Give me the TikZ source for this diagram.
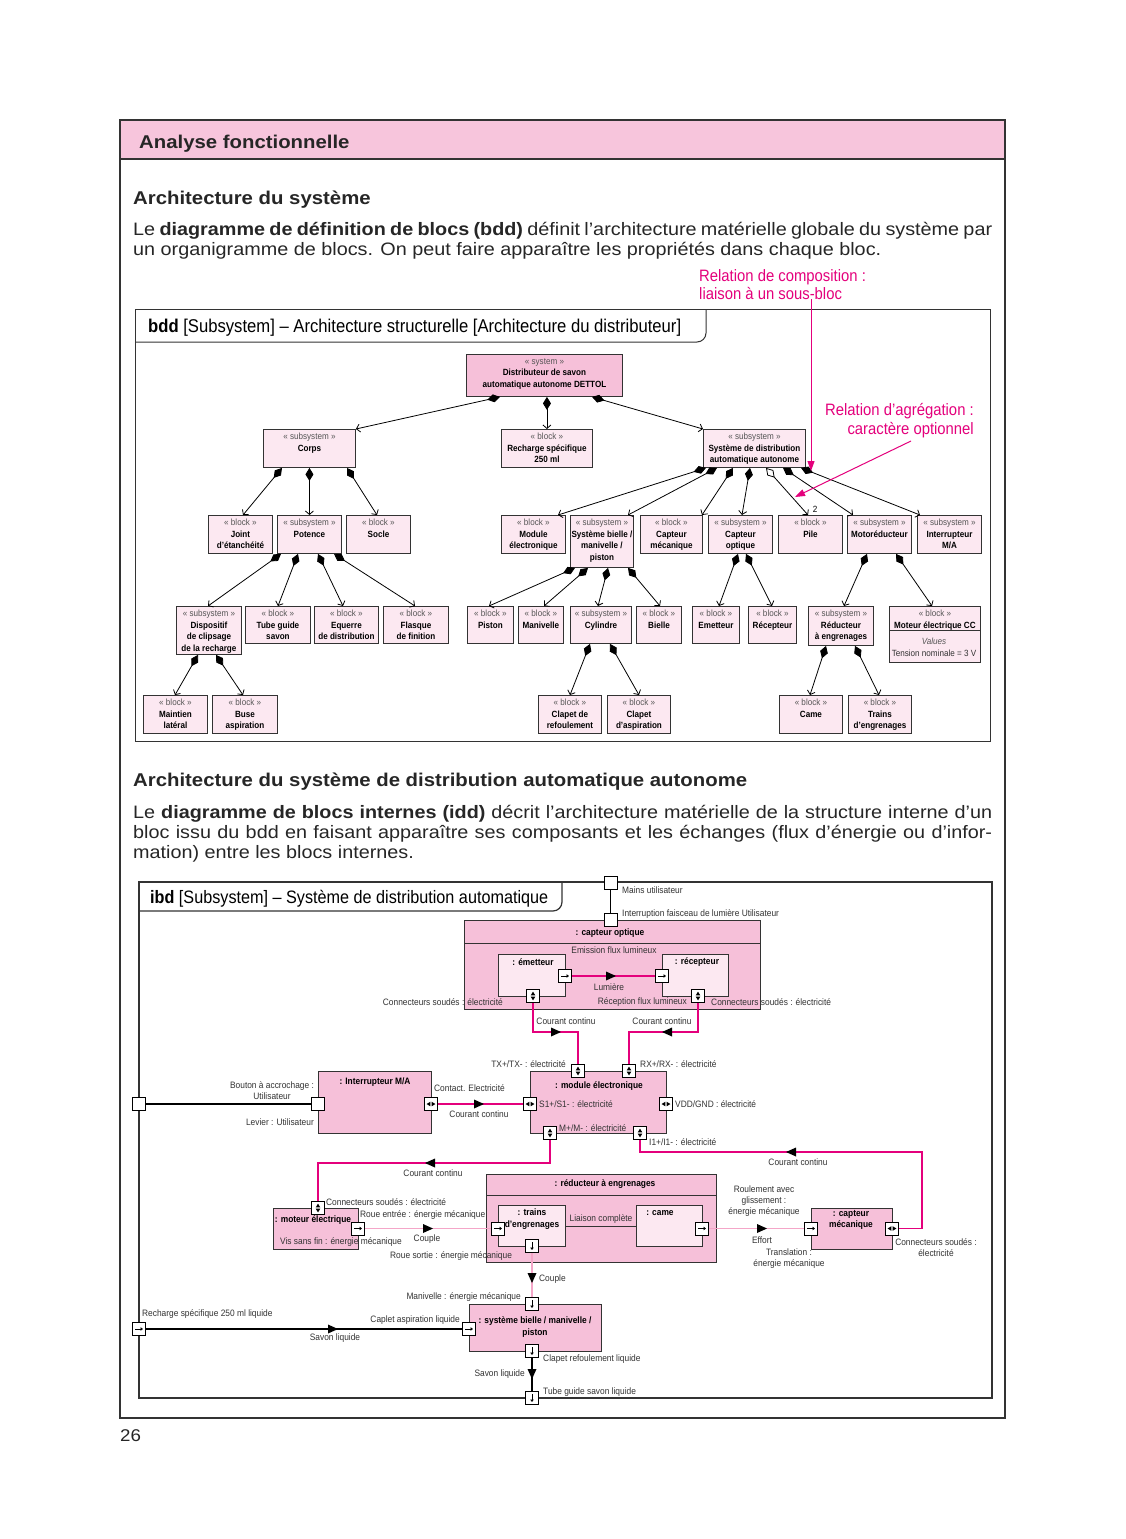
\documentclass[tikz,border=0pt]{standalone}
\usepackage{fontspec}
\setmainfont{Liberation Sans}
\newfontfamily\cond{Liberation Sans}[FakeStretch=0.9]
\newfontfamily\bodyf{Liberation Sans}[FakeStretch=1.1]
\usetikzlibrary{arrows.meta,calc}
\definecolor{hdr}{HTML}{F7C5DC}
\definecolor{lp}{HTML}{FCE8F1}
\definecolor{dp}{HTML}{F6C0D9}
\definecolor{mag}{HTML}{E4007C}
\definecolor{lmag}{HTML}{F4A6C8}
\definecolor{frm}{HTML}{333333}
\definecolor{txt}{HTML}{333333}
\definecolor{stc}{HTML}{555555}
\newcommand{\st}[1]{{\mdseries\color{stc}«~#1~»}}
\newcommand{\B}[7][bk]{\node[#1, anchor=north west, minimum width={#5-#3}, minimum height={#6-#4}] (#2) at (#3,#4) {};
  \node[bt, anchor=north] (#2t) at ([yshift=-3pt]#2.north) {#7};}
\newcommand{\pP}[3]{\node[port] (#1) at (#2,#3) {};}
\newcommand{\pR}[3]{\pP{#1}{#2}{#3}\draw[line width=0.7pt,-{Triangle[length=2.5pt,width=3.5pt]}] ([xshift=-4pt]#1.center) -- ([xshift=4pt]#1.center);}
\newcommand{\pD}[3]{\pP{#1}{#2}{#3}\draw[line width=0.7pt,-{Triangle[length=2.5pt,width=3.5pt]}] ([yshift=4pt]#1.center) -- ([yshift=-4pt]#1.center);}
\newcommand{\pUD}[3]{\pP{#1}{#2}{#3}%
  \fill ([yshift=0.6pt]#1.center) -- ++(-2.3pt,0pt) -- ++(2.3pt,3.8pt) -- ++(2.3pt,-3.8pt) -- cycle;
  \fill ([yshift=-0.6pt]#1.center) -- ++(-2.3pt,0pt) -- ++(2.3pt,-3.8pt) -- ++(2.3pt,3.8pt) -- cycle;}
\newcommand{\pLR}[3]{\pP{#1}{#2}{#3}%
  \fill ([xshift=0.6pt]#1.center) -- ++(0pt,2.3pt) -- ++(3.8pt,-2.3pt) -- ++(-3.8pt,-2.3pt) -- cycle;
  \fill ([xshift=-0.6pt]#1.center) -- ++(0pt,2.3pt) -- ++(-3.8pt,-2.3pt) -- ++(3.8pt,-2.3pt) -- cycle;}
\newcommand{\tR}[2]{\fill (#1,#2) ++(5pt,0pt) -- ++(-10pt,4.5pt) -- ++(0pt,-9pt) -- cycle;}
\newcommand{\tL}[2]{\fill (#1,#2) ++(-5pt,0pt) -- ++(10pt,4.5pt) -- ++(0pt,-9pt) -- cycle;}
\newcommand{\tD}[2]{\fill (#1,#2) ++(0pt,-5pt) -- ++(-4.5pt,10pt) -- ++(9pt,0pt) -- cycle;}
\tikzset{
 bk/.style={draw=frm, line width=0.9pt, fill=lp, inner sep=0pt},
 bkd/.style={bk, fill=dp},
 bt/.style={font=\cond\bfseries\fontsize{9}{11.5}\selectfont, align=center, inner sep=1pt, text=black},
 lbl/.style={font=\cond\fontsize{9.3}{11}\selectfont, inner sep=1pt, text=txt},
 blbl/.style={font=\cond\bfseries\fontsize{9.3}{11.5}\selectfont, inner sep=1pt, text=black, align=center},
 ann/.style={anchor=base west, inner sep=0, font=\cond\fontsize{16.5}{18}\selectfont, text=mag},
 body/.style={anchor=base west, inner sep=0, font=\bodyf\fontsize{18}{20}\selectfont, text=black!85},
 head/.style={anchor=base west, inner sep=0, font=\bodyf\bfseries\fontsize{18.5}{22}\selectfont, text=black!85},
 dtitle/.style={anchor=base west, inner sep=0, font=\cond\fontsize{18.5}{20}\selectfont, text=black},
 comp/.style={draw=black, line width=0.8pt, {Diamond[length=13pt,width=8pt]}-{Straight Barb[length=3.5pt,width=8pt]}},
 agg/.style={draw=black, line width=0.8pt, {Diamond[length=13pt,width=8pt,fill=white]}-{Straight Barb[length=3.5pt,width=8pt]}},
 port/.style={draw=black, fill=white, line width=0.9pt, minimum size=13pt, inner sep=0pt},
 mc/.style={draw=mag, line width=1.2pt},
 lc/.style={draw=lmag, line width=1.2pt},
 bc/.style={draw=black, line width=1.2pt},
}
\begin{document}
\begin{tikzpicture}[x=1pt,y=-1pt]
\useasboundingbox (0,0) rectangle (1125,1539);
\fill[white] (0,0) rectangle (1125,1539);
% ---------- page frame and header
\fill[hdr] (120,120) rectangle (1005,159);
\draw[frm, line width=2pt] (120,120) rectangle (1005,1418);
\draw[frm, line width=2pt] (120,159) -- (1005,159);
\node[head] (hd) at (139,148) {Analyse fonctionnelle};
\node[head] (s1) at (133,204) {Architecture du système};
\node[body] (p1a) at (133,235) {\makebox[859pt][s]{Le \textbf{diagramme de définition de blocs (bdd)} définit l’architecture matérielle globale du système par}};
\node[body] (p1b) at (133,255) {un organigramme de blocs. On peut faire apparaître les propriétés dans chaque bloc.};
% ---------- annotations
\node[ann] (compt) at (699,281) {Relation de composition :};
\node[ann] (compt2) at (699,299) {liaison à un sous-bloc};
\node[ann, anchor=base east] (aggt) at (974,415) {Relation d’agrégation :};
\node[ann, anchor=base east] (aggt2) at (974,434) {caractère optionnel};
% ---------- bdd frame
\draw[frm, line width=1pt] (135,309) rectangle (990,741);
\draw[frm, line width=1pt, rounded corners=9pt] (135,342) -- (706,342) -- (706,309);
\node[dtitle] (bddt) at (148,332) {\textbf{bdd} [Subsystem] – Architecture structurelle [Architecture du distributeur]};
% ---------- bdd blocks
\B[bkd]{sys}{466}{354}{622}{396}{\st{system}\\Distributeur de savon\\automatique autonome DETTOL}
\B{corps}{263}{429}{355}{467}{\st{subsystem}\\Corps}
\B{rech}{501}{429}{592}{467}{\st{block}\\Recharge spécifique\\250 ml}
\B{sysd}{703}{429}{805}{467}{\st{subsystem}\\Système de distribution\\automatique autonome}
\B{joint}{208}{515}{272}{553}{\st{block}\\Joint\\d’étanchéité}
\B{pot}{277}{515}{341}{553}{\st{subsystem}\\Potence}
\B{socle}{346}{515}{410}{553}{\st{block}\\Socle}
\B{mod}{501}{515}{565}{553}{\st{block}\\Module\\électronique}
\B{sbm}{570}{515}{633}{567}{\st{subsystem}\\Système bielle /\\manivelle /\\piston}
\B{cmec}{640}{515}{702}{553}{\st{block}\\Capteur\\mécanique}
\B{copt}{708}{515}{772}{553}{\st{subsystem}\\Capteur\\optique}
\B{pile}{778}{515}{842}{553}{\st{block}\\Pile}
\B{motr}{847}{515}{911}{553}{\st{subsystem}\\Motoréducteur}
\B{inter}{917}{515}{981}{553}{\st{subsystem}\\Interrupteur\\M/A}
\B{disp}{176}{606}{241}{654}{\st{subsystem}\\Dispositif\\de clipsage\\de la recharge}
\B{tube}{245}{606}{310}{643}{\st{block}\\Tube guide\\savon}
\B{equ}{314}{606}{378}{643}{\st{block}\\Equerre\\de distribution}
\B{flas}{383}{606}{448}{643}{\st{block}\\Flasque\\de finition}
\B{pist}{467}{606}{513}{643}{\st{block}\\Piston}
\B{mani}{518}{606}{563}{643}{\st{block}\\Manivelle}
\B{cyl}{570}{606}{631}{643}{\st{subsystem}\\Cylindre}
\B{biel}{636}{606}{681}{643}{\st{block}\\Bielle}
\B{emet}{692}{606}{739}{643}{\st{block}\\Emetteur}
\B{recp}{748}{606}{796}{643}{\st{block}\\Récepteur}
\B{red}{808}{606}{873}{645}{\st{subsystem}\\Réducteur\\à engrenages}
\B{mot}{889}{606}{980}{662}{\st{block}\\Moteur électrique CC}
\draw[frm, line width=0.9pt] (mot.west |- 0,630) -- (mot.east |- 0,630);
\node[bt, font=\cond\itshape\fontsize{9}{11}\selectfont, text=stc] (motv) at (934,641) {Values};
\node[bt, font=\cond\fontsize{9}{11}\selectfont, text=txt] (mott) at (934,653) {Tension nominale = 3 V};
\B{maint}{143}{695}{207}{733}{\st{block}\\Maintien\\latéral}
\B{buse}{212}{695}{277}{733}{\st{block}\\Buse\\aspiration}
\B{clr}{538}{695}{601}{733}{\st{block}\\Clapet de\\refoulement}
\B{cla}{607}{695}{670}{733}{\st{block}\\Clapet\\d’aspiration}
\B{came}{779}{695}{842}{733}{\st{block}\\Came}
\B{trains}{848}{695}{911}{733}{\st{block}\\Trains\\d’engrenages}
% ---------- bdd connectors
\draw[comp] (500,0 |- sys.south) -- (corps.north east);
\draw[comp] (sys.south -| rech.north) -- (rech.north);
\draw[comp] (592,0 |- sys.south) -- (sysd.north west);
\draw[comp] (282,0 |- corps.south) -- (243,0 |- joint.north);
\draw[comp] (corps.south) -- (pot.north);
\draw[comp] (347,0 |- corps.south) -- (377,0 |- socle.north);
\draw[comp] (281,0 |- pot.south) -- (208,0 |- disp.north);
\draw[comp] (298,0 |- pot.south) -- (278,0 |- tube.north);
\draw[comp] (318,0 |- pot.south) -- (343,0 |- equ.north);
\draw[comp] (334,0 |- pot.south) -- (415,0 |- flas.north);
\draw[comp] (198,0 |- disp.south) -- (175,0 |- maint.north);
\draw[comp] (216,0 |- disp.south) -- (243,0 |- buse.north);
\draw[comp] (706,0 |- sysd.south) -- (558,0 |- mod.north);
\draw[comp] (717,0 |- sysd.south) -- (628,0 |- sbm.north);
\draw[comp] (733,0 |- sysd.south) -- (702,0 |- cmec.north);
\draw[comp] (750,0 |- sysd.south) -- (742,0 |- copt.north);
\draw[agg]  (766,0 |- sysd.south) -- (808,0 |- pile.north);
\draw[comp] (783,0 |- sysd.south) -- (853,0 |- motr.north);
\draw[comp] (801,0 |- sysd.south) -- (920,0 |- inter.north);
\node[bt, font=\cond\fontsize{9}{10}\selectfont] (mult) at (815,509) {2};
\draw[comp] (575,0 |- sbm.south) -- (489,0 |- pist.north);
\draw[comp] (588,0 |- sbm.south) -- (544,0 |- mani.north);
\draw[comp] (608,0 |- sbm.south) -- (598,0 |- cyl.north);
\draw[comp] (628,0 |- sbm.south) -- (660,0 |- biel.north);
\draw[comp] (738,0 |- copt.south) -- (719,0 |- emet.north);
\draw[comp] (746,0 |- copt.south) -- (772,0 |- recp.north);
\draw[comp] (867,0 |- motr.south) -- (844,0 |- red.north);
\draw[comp] (896,0 |- motr.south) -- (932,0 |- mot.north);
\draw[comp] (590,0 |- cyl.south) -- (570,0 |- clr.north);
\draw[comp] (610,0 |- cyl.south) -- (639,0 |- cla.north);
\draw[comp] (826,0 |- red.south) -- (810,0 |- came.north);
\draw[comp] (855,0 |- red.south) -- (879,0 |- trains.north);
% annotation arrows
\coordinate (comptip) at (811,471);
\coordinate (aggtip) at (795,497);
\draw[mag, line width=1pt, -{Triangle[length=10pt,width=7pt]}] (811,0 |- compt2.south) -- (comptip);
\draw[mag, line width=1pt, -{Triangle[length=10pt,width=7pt]}] (911,441) -- (aggtip);
% ---------- section 2 text
\node[head] (s2) at (133,786) {Architecture du système de distribution automatique autonome};
\node[body] (p2a) at (133,818) {\makebox[859pt][s]{Le \textbf{diagramme de blocs internes (idd)} décrit l’architecture matérielle de la structure interne d’un}};
\node[body] (p2b) at (133,838) {\makebox[859pt][s]{bloc issu du bdd en faisant apparaître ses composants et les échanges (flux d’énergie ou d’infor-}};
\node[body] (p2c) at (133,858) {mation) entre les blocs internes.};
% ---------- ibd frame
\draw[frm, line width=1.6pt] (139,882) rectangle (992,1398);
\draw[frm, line width=1.2pt, rounded corners=9pt] (139,911) -- (562,911) -- (562,882);
\node[dtitle, font=\cond\fontsize{18}{20}\selectfont] (ibdt) at (150,903) {\textbf{ibd} [Subsystem] – Système de distribution automatique};
% ---------- ibd boxes
\node[bkd, anchor=north west, minimum width=296, minimum height=89] (cop) at (464,920) {};
\draw[frm, line width=0.9pt] (cop.west |- 0,943) -- (cop.east |- 0,943);
\node[bk, anchor=north west, minimum width=67, minimum height=42] (em) at (498,954) {};
\node[bk, anchor=north west, minimum width=66, minimum height=42] (rc) at (662,954) {};
\node[bkd, anchor=north west, minimum width=136, minimum height=62] (mdl) at (530,1071) {};
\node[bkd, anchor=north west, minimum width=113, minimum height=62] (intr) at (318,1071) {};
\node[bkd, anchor=north west, minimum width=85, minimum height=41] (mte) at (273,1208) {};
\node[bkd, anchor=north west, minimum width=230, minimum height=88] (rdc) at (486,1174) {};
\draw[frm, line width=0.9pt] (rdc.west |- 0,1195) -- (rdc.east |- 0,1195);
\node[bk, anchor=north west, minimum width=67, minimum height=41] (trn) at (498,1205) {};
\node[bk, anchor=north west, minimum width=66, minimum height=41] (cam) at (636,1205) {};
\node[bkd, anchor=north west, minimum width=81, minimum height=41] (cmc) at (811,1208) {};
\node[bkd, anchor=north west, minimum width=132, minimum height=47] (sbp) at (469,1304) {};
% ---------- ibd ports
\pP{pm1}{610.5}{882.5}
\pP{pm2}{610.5}{920}
\pR{pem}{565}{976}
\pR{prc}{662}{976}
\pUD{pemb}{533}{996}
\pUD{prcb}{698}{996}
\pUD{ptx}{578}{1071}
\pUD{prx}{629}{1071}
\pLR{ps1}{530}{1104}
\pLR{pvdd}{666}{1104}
\pUD{pmm}{550}{1133}
\pUD{pi1}{640}{1133}
\pP{pil}{318}{1104}
\pLR{pir}{431}{1104}
\pP{pfl}{139}{1104}
\pUD{pmt}{318}{1208}
\pR{pmr}{358}{1228.5}
\pR{ptl}{498}{1228.5}
\pD{ptb}{532}{1246}
\pR{pcr}{702}{1228.5}
\pR{pcml}{811}{1228.5}
\pLR{pcmr}{892}{1228.5}
\pD{psbt}{532}{1304}
\pR{psbl}{469}{1329}
\pD{psbb}{532}{1351}
\pR{pfr}{139}{1329}
\pD{pfb}{532}{1398}
% ---------- ibd connectors
\draw[bc, line width=1pt] (pm1.south) -- (pm2.north);
\draw[mc] (pem.east) -- (prc.west); \tR{611}{976}
\draw[mc] (pemb.south) -- (pemb.south |- 0,1032) -| (ptx.north); \tR{556}{1032}
\draw[mc] (prcb.south) -- (prcb.south |- 0,1032) -| (prx.north); \tL{667}{1032}
\draw[bc] (pfl.east) -- (pil.west);
\draw[mc] (pir.east) -- (ps1.west); \tR{479}{1104}
\draw[mc] (pmm.south) -- (pmm.south |- 0,1163) -| (pmt.north); \tL{430}{1163}
\draw[lc] (pmr.east) -- (ptl.west); \tR{428}{1228.5}
\draw[frm, line width=1pt] (trn.east |- 0,1226) -- (cam.west |- 0,1226);
\draw[lc] (pcr.east) -- (pcml.west); \tR{762}{1228.5}
\draw[mc] (pcmr.east) -| (922,1152) -| (pi1.south); \tL{791}{1152}
\draw[lc] (ptb.south) -- (psbt.north); \tD{532}{1278}
\draw[bc] (pfr.east) -- (psbl.west); \tR{333}{1329}
\draw[bc] (psbb.south) -- (pfb.north); \tD{532}{1374}
% ---------- ibd texts
\node[lbl, anchor=west] (l1) at (621,890) {Mains utilisateur};
\node[lbl, anchor=west] (l2) at (621,914) {Interruption faisceau de lumière Utilisateur};
\node[blbl] (l3) at (610,933) {: capteur optique};
\node[lbl] (l4) at (614,950) {Emission flux lumineux};
\node[blbl] (l5) at (533,962) {: émetteur};
\node[blbl] (l6) at (697,962) {: récepteur};
\node[lbl] (l7) at (609,987) {Lumière};
\node[lbl, anchor=east] (l8) at (504,1002) {Connecteurs soudés : électricité};
\node[lbl, anchor=east] (l9) at (688,1002) {Réception flux lumineux};
\node[lbl, anchor=west] (l10) at (710,1002) {Connecteurs soudés : électricité};
\node[lbl] (l11) at (566,1021) {Courant continu};
\node[lbl] (l12) at (662,1021) {Courant continu};
\node[lbl, anchor=east] (l13) at (567,1064) {TX+/TX- : électricité};
\node[lbl, anchor=west] (l14) at (639,1064) {RX+/RX- : électricité};
\node[blbl] (l15) at (599,1086) {: module électronique};
\node[lbl, anchor=west] (l16) at (538,1104) {S1+/S1- : électricité};
\node[lbl, anchor=west] (l17) at (674,1104) {VDD/GND : électricité};
\node[lbl, anchor=west] (l18) at (558,1128) {M+/M- : électricité};
\node[lbl, anchor=west] (l19) at (648,1142) {I1+/I1- : électricité};
\node[blbl] (l20) at (375,1082) {: Interrupteur M/A};
\node[lbl, anchor=west] (l21) at (433,1088) {Contact. Electricité};
\node[lbl] (l22) at (479,1114) {Courant continu};
\node[lbl, align=center] (l23) at (272,1091) {Bouton à accrochage :\\Utilisateur};
\node[lbl, anchor=east] (l24) at (315,1122) {Levier : Utilisateur};
\node[lbl] (l25) at (433,1173) {Courant continu};
\node[lbl, anchor=west] (l26) at (325,1202) {Connecteurs soudés : électricité};
\node[blbl] (l27) at (313,1220) {: moteur électrique};
\node[lbl, anchor=west] (l28) at (359,1215) {Roue entrée : énergie mécanique};
\node[lbl, anchor=west] (l29) at (279,1242) {Vis sans fin : énergie mécanique};
\node[lbl] (l30) at (427,1239) {Couple};
\node[lbl, anchor=west] (l31) at (389,1256) {Roue sortie : énergie mécanique};
\node[blbl] (l32) at (605,1184) {: réducteur à engrenages};
\node[blbl] (l33) at (532,1219) {: trains\\d’engrenages};
\node[lbl] (l34) at (601,1219) {Liaison complète};
\node[blbl] (l35) at (660,1213) {: came};
\node[lbl, align=center, font=\cond\fontsize{9.3}{11}\selectfont] (l36) at (764,1201) {Roulement avec\\glissement :\\énergie mécanique};
\node[lbl] (l37) at (762,1240) {Effort};
\node[lbl, align=center, font=\cond\fontsize{9.3}{11}\selectfont] (l38) at (789,1259) {Translation :\\énergie mécanique};
\node[blbl] (l39) at (851,1220) {: capteur\\mécanique};
\node[lbl, align=center, font=\cond\fontsize{9.3}{11}\selectfont] (l40) at (936,1248) {Connecteurs soudés :\\électricité};
\node[lbl] (l41) at (798,1162) {Courant continu};
\node[lbl, anchor=west] (l42) at (538,1279) {Couple};
\node[lbl, anchor=east] (l43) at (522,1297) {Manivelle : énergie mécanique};
\node[lbl, anchor=west] (l44) at (141,1314) {Recharge spécifique 250 ml liquide};
\node[lbl, anchor=east] (l45) at (461,1320) {Caplet aspiration liquide};
\node[lbl] (l46) at (335,1338) {Savon liquide};
\node[blbl] (l47) at (535,1327) {: système bielle / manivelle /\\piston};
\node[lbl, anchor=west] (l48) at (542,1359) {Clapet refoulement liquide};
\node[lbl, anchor=east] (l49) at (526,1374) {Savon liquide};
\node[lbl, anchor=west] (l50) at (542,1392) {Tube guide savon liquide};
% page number
\node[anchor=base west, inner sep=0, font=\bodyf\fontsize{17}{20}\selectfont, text=black!85] (pg) at (120,1441) {26};
\end{tikzpicture}
\end{document}
